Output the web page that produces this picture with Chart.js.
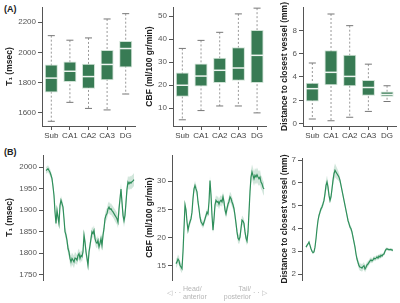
<!DOCTYPE html>
<html lang="en">
<head>
<meta charset="UTF-8">
<title>Hippocampal subfields: T1, CBF, vessel distance</title>
<script src="https://cdn.jsdelivr.net/npm/chart.js"></script>
<style>
  body { margin: 0; background: #fff; width: 400px; height: 303px; position: relative; overflow: hidden; font-family: "Liberation Sans", Arial, sans-serif; }
  canvas { position: absolute; }
  .tag { position: absolute; font-weight: bold; font-size: 9px; color: #222; line-height: 1.2; }
</style>
</head>
<body>
<div class="tag" style="left:4px;top:4px">(A)</div>
<div class="tag" style="left:4px;top:147px">(B)</div>
<canvas id="boxT1" width="140" height="145" style="left:0;top:0"></canvas>
<canvas id="boxCbf" width="132" height="145" style="left:138px;top:0"></canvas>
<canvas id="boxDist" width="132" height="145" style="left:268px;top:0"></canvas>
<canvas id="lineT1" width="140" height="158" style="left:0;top:145px"></canvas>
<canvas id="lineCbf" width="132" height="158" style="left:138px;top:145px"></canvas>
<canvas id="lineDist" width="132" height="158" style="left:268px;top:145px"></canvas>

<script>
    const FONT = '"Liberation Sans", Arial, sans-serif';
    const subfields = ['Sub', 'CA1', 'CA2', 'CA3', 'DG'];

    // (A) box plots: lower whisker, Q1, median, Q3, upper whisker
    const t1Low  = [1545, 1670, 1630, 1620, 1725];
    const t1Q1   = [1735, 1805, 1760, 1815, 1900];
    const t1Med  = [1830, 1875, 1840, 1920, 2025];
    const t1Q3   = [1920, 1940, 1925, 2015, 2075];
    const t1High = [2110, 2080, 2095, 2220, 2255];

    const cbfLow  = [5, 9, 11, 11, 8];
    const cbfQ1   = [15, 19.5, 21, 22, 21];
    const cbfMed  = [20, 24, 26.5, 27.5, 33];
    const cbfQ3   = [25.5, 29.5, 32, 36.5, 44];
    const cbfHigh = [36, 39.5, 43, 51, 53.5];

    const distLow  = [0.4, 0.25, 0.55, 1.05, 1.9];
    const distQ1   = [1.9, 3.3, 3.2, 2.4, 2.3];
    const distMed  = [3.0, 4.4, 4.05, 3.1, 2.5];
    const distQ3   = [3.5, 6.3, 5.9, 3.75, 2.75];
    const distHigh = [5.2, 9.4, 8.4, 5.1, 3.25];

    const t1BoxTicks = [1600, 1800, 2000, 2200];
    const cbfBoxTicks = [10, 20, 30, 40, 50];
    const distBoxTicks = [0, 2, 4, 6, 8];

    // (B) profiles along the long axis (head -> tail): mean and band half-width
    const t1Profile = [1992,1994,1996,1992,1988,1981,1973,1955,1934,1896,
        1869,1900,1884,1869,1911,1923,1915,1907,1880,1850,
        1842,1830,1811,1803,1788,1780,1788,1784,1780,1789,
        1788,1784,1795,1799,1788,1795,1792,1803,1842,1826,
        1803,1788,1772,1803,1818,1834,1850,1846,1853,1834,
        1826,1823,1830,1815,1823,1834,1818,1842,1857,1880,
        1888,1892,1903,1907,1902,1903,1899,1896,1892,1888,
        1884,1880,1872,1903,1926,1949,1918,1888,1876,1888,
        1918,1949,1965,1961,1965,1963,1966,1968,1971];
    const t1Err = [8,8,8,8,8,8,9,10,10,10,
        10,10,10,10,10,10,10,10,10,10,
        12,12,12,12,14,14,14,14,14,14,
        12,12,12,12,12,12,12,12,12,12,
        12,12,12,12,12,12,12,12,12,12,
        12,12,12,12,12,12,12,12,12,12,
        13,13,13,13,13,13,13,13,13,14,
        14,14,14,14,14,14,14,14,15,15,
        15,15,15,15,15,15,15,15,15];

    const cbfProfile = [15.4,15.7,16.2,15.9,15.1,14.8,14.5,17.5,21.6,25.8,
        24.9,22.8,21.3,22.2,22.8,23.3,24.5,26.9,28.6,29.2,
        28.6,28.1,26.3,25.1,23.6,22.8,22.5,22.2,22.7,23.3,
        23.9,24.5,24.2,26.3,30.1,27.5,23.9,21.3,23.3,25.8,
        26.6,26.3,26.4,25.9,26.4,26.6,26.3,27.2,26.3,24.9,
        24.2,25.1,25.9,26.4,27.2,26.9,26.3,25.8,25.1,23.9,
        22.5,21.0,19.9,19.6,20.1,21.6,23.1,22.9,22.5,21.0,
        19.9,19.4,21.0,24.5,28.1,30.7,31.6,31.0,30.4,31.0,
        30.7,31.1,30.7,30.4,30.7,29.8,29.5,28.9,28.6];
    const cbfErr = [0.8,0.8,0.8,0.8,0.8,0.8,0.8,0.7,0.7,0.7,
        0.6,0.6,0.6,0.6,0.6,0.6,0.7,0.8,0.8,0.8,
        0.8,0.8,0.7,0.7,0.7,0.6,0.6,0.6,0.6,0.6,
        0.6,0.6,0.6,0.7,0.8,0.7,0.6,0.6,0.7,0.9,
        0.9,0.9,0.9,0.9,0.9,0.9,0.9,0.9,0.8,0.8,
        0.8,0.8,0.8,0.8,0.9,0.9,0.9,0.8,0.8,0.8,
        0.8,0.8,0.8,0.8,0.8,0.8,0.8,0.8,0.8,0.8,
        0.8,0.8,0.9,1.0,1.1,1.2,1.3,1.3,1.3,1.3,
        1.3,1.3,1.3,1.3,1.3,1.2,1.2,1.2,1.2];

    const distProfile = [3.18,3.26,3.32,3.40,3.26,3.11,3.00,2.94,2.97,3.18,
        3.55,3.99,4.35,4.57,4.72,4.86,4.94,5.08,5.23,5.53,
        5.89,6.04,5.82,5.45,5.23,5.38,5.74,6.11,6.40,6.55,
        6.47,6.40,6.33,6.25,6.11,5.89,5.67,5.45,5.23,5.01,
        4.79,4.57,4.35,4.21,4.06,3.99,3.84,3.62,3.40,3.18,
        2.88,2.66,2.51,2.37,2.30,2.30,2.26,2.33,2.37,2.22,
        2.30,2.40,2.44,2.51,2.58,2.62,2.58,2.62,2.70,2.66,
        2.70,2.75,2.70,2.79,2.75,2.83,2.79,2.86,2.88,3.00,
        3.08,3.11,3.08,3.07,3.07,3.08,3.05,3.05];
    const distErr = [0.06,0.06,0.06,0.06,0.06,0.06,0.06,0.06,0.06,0.08,
        0.10,0.10,0.12,0.12,0.12,0.12,0.12,0.14,0.16,0.20,
        0.25,0.28,0.22,0.16,0.14,0.16,0.20,0.25,0.30,0.30,
        0.28,0.25,0.22,0.18,0.15,0.12,0.10,0.10,0.10,0.10,
        0.10,0.10,0.12,0.12,0.12,0.12,0.12,0.12,0.12,0.12,
        0.12,0.14,0.15,0.16,0.16,0.16,0.16,0.16,0.15,0.15,
        0.14,0.14,0.12,0.12,0.12,0.12,0.10,0.10,0.10,0.10,
        0.10,0.10,0.10,0.10,0.10,0.10,0.08,0.08,0.08,0.08,
        0.08,0.06,0.06,0.06,0.06,0.06,0.06,0.06];

    const t1LineTicks = [1750, 1800, 1850, 1900, 1950, 2000];
    const cbfLineTicks = [15, 20, 25, 30];
    const distLineTicks = [2, 3, 4, 5, 6, 7];

    const BOX_GREEN = '#387b54';
    const LINE_GREEN = '#2f8f5b';
    const AXIS_GREY = '#555';

    // whiskers behind the boxes, medians on top
    const boxWhiskers = {
        id: 'boxWhiskers',
        beforeDatasetsDraw(chart, args, opts) {
            const ctx = chart.ctx;
            const y = chart.scales.y;
            chart.getDatasetMeta(0).data.forEach((bar, i) => {
                const top = y.getPixelForValue(opts.high[i]);
                const bot = y.getPixelForValue(opts.low[i]);
                const cap = bar.width * 0.27;
                ctx.save();
                ctx.lineWidth = 1;
                ctx.strokeStyle = '#999';
                ctx.setLineDash([2, 2]);
                ctx.beginPath();
                ctx.moveTo(bar.x, top);
                ctx.lineTo(bar.x, bot);
                ctx.stroke();
                ctx.setLineDash([]);
                ctx.strokeStyle = '#777';
                ctx.beginPath();
                ctx.moveTo(bar.x - cap, top);
                ctx.lineTo(bar.x + cap, top);
                ctx.moveTo(bar.x - cap, bot);
                ctx.lineTo(bar.x + cap, bot);
                ctx.stroke();
                ctx.restore();
            });
        },
        afterDatasetsDraw(chart, args, opts) {
            const ctx = chart.ctx;
            const y = chart.scales.y;
            chart.getDatasetMeta(0).data.forEach((bar, i) => {
                const m = y.getPixelForValue(opts.med[i]);
                ctx.save();
                ctx.strokeStyle = '#eef5f0';
                ctx.lineWidth = 1.5;
                ctx.beginPath();
                ctx.moveTo(bar.x - bar.width / 2, m);
                ctx.lineTo(bar.x + bar.width / 2, m);
                ctx.stroke();
                ctx.restore();
            });
        }
    };

    function yAxis(min, max, tickVals, title, width, titlePad) {
        return {
            min: min,
            max: max,
            afterBuildTicks: s => { s.ticks = tickVals.map(v => ({ value: v })); },
            afterFit: s => { s.width = width; },
            border: { display: true, color: AXIS_GREY, width: 1 },
            grid: { display: true, drawOnChartArea: false, drawTicks: true, tickLength: 4, color: AXIS_GREY },
            ticks: { color: '#555', font: { size: 8, family: FONT }, padding: 2, callback: v => String(v) },
            title: {
                display: true, text: title, color: '#222',
                font: { size: 8.5, weight: 'bold', family: FONT },
                padding: { top: titlePad, bottom: 0 }
            }
        };
    }

    function boxChart(id, low, q1, med, q3, high, ticks, min, max, title, yWidth, titlePad, padRight) {
        new Chart(document.getElementById(id), {
            type: 'bar',
            data: {
                labels: subfields,
                datasets: [{
                    data: q1.map((v, i) => [v, q3[i]]),
                    backgroundColor: BOX_GREEN,
                    borderColor: '#cfe2d5',
                    borderWidth: 1,
                    borderSkipped: false,
                    barPercentage: 0.7,
                    categoryPercentage: 1
                }]
            },
            options: {
                responsive: false,
                animation: false,
                layout: { padding: { left: 0, right: padRight, top: 7, bottom: 0 } },
                plugins: {
                    legend: { display: false },
                    tooltip: { enabled: false },
                    boxWhiskers: { low: low, med: med, high: high }
                },
                scales: {
                    x: {
                        afterFit: s => { s.height = 19; },
                        border: { display: true, color: AXIS_GREY, width: 1 },
                        grid: { display: true, offset: false, drawOnChartArea: false, tickLength: 4, color: AXIS_GREY },
                        ticks: { color: '#444', font: { size: 8, family: FONT }, padding: 1, maxRotation: 0 }
                    },
                    y: yAxis(min, max, ticks, title, yWidth, titlePad)
                }
            },
            plugins: [boxWhiskers]
        });
    }

    boxChart('boxT1', t1Low, t1Q1, t1Med, t1Q3, t1High, t1BoxTicks, 1514, 2299, 'T\u2081 (msec)', 42, 5, 5);
    boxChart('boxCbf', cbfLow, cbfQ1, cbfMed, cbfQ3, cbfHigh, cbfBoxTicks, 2.3, 54, 'CBF (ml/100 gr/min)', 35, 7, 3.6);
    boxChart('boxDist', distLow, distQ1, distMed, distQ3, distHigh, distBoxTicks, -0.2, 10, 'Distance to closest vessel (mm)', 35, 12, 3.6);

    // head / tail annotation under the CBF profile
    const headTail = {
        id: 'headTail',
        afterDraw(chart) {
            const ctx = chart.ctx;
            ctx.save();
            ctx.fillStyle = '#b5b5b5';
            ctx.font = '7px ' + FONT;
            ctx.textBaseline = 'middle';
            ctx.textAlign = 'left';
            ctx.fillText('Head/', 45, 144);
            ctx.fillText('anterior', 45, 152);
            ctx.fillText('\u00b7 \u00b7 \u25b7', 115, 148);
            ctx.textAlign = 'right';
            ctx.fillText('Tail/', 113, 144);
            ctx.fillText('posterior', 113, 152);
            ctx.fillText('\u25c1 \u00b7 \u00b7', 43, 148);
            ctx.restore();
        }
    };

    function profileChart(id, mean, err, ticks, min, max, title, yWidth, titlePad, padTop, xMin, extra) {
        const pts = mean.map((v, i) => ({ x: i, y: v }));
        const upper = mean.map((v, i) => ({ x: i, y: v + err[i] }));
        const lower = mean.map((v, i) => ({ x: i, y: v - err[i] }));
        new Chart(document.getElementById(id), {
            type: 'line',
            data: {
                datasets: [
                    { data: pts, borderColor: LINE_GREEN, borderWidth: 1.2, pointRadius: 0, tension: 0, fill: false },
                    { data: upper, borderWidth: 0, borderColor: 'rgba(0,0,0,0)', pointRadius: 0, tension: 0, fill: '+1', backgroundColor: 'rgba(47,143,91,0.22)' },
                    { data: lower, borderWidth: 0, borderColor: 'rgba(0,0,0,0)', pointRadius: 0, tension: 0, fill: false }
                ]
            },
            options: {
                responsive: false,
                animation: false,
                layout: { padding: { left: 0, right: 4, top: padTop, bottom: 23 } },
                plugins: { legend: { display: false }, tooltip: { enabled: false } },
                scales: {
                    x: { type: 'linear', min: xMin, max: 90, display: false },
                    y: yAxis(min, max, ticks, title, yWidth, titlePad)
                }
            },
            plugins: extra ? [extra] : []
        });
    }

    profileChart('lineT1', t1Profile, t1Err, t1LineTicks, 1738, 2028, 'T\u2081 (msec)', 43, 5, 10, -3, null);
    profileChart('lineCbf', cbfProfile, cbfErr, cbfLineTicks, 12.5, 34.6, 'CBF (ml/100 gr/min)', 34, 7, 10, -4, headTail);
    profileChart('lineDist', distProfile, distErr, distLineTicks, 1.74, 7.09, 'Distance to closest vessel (mm)', 34, 12, 13, -4, null);
</script>
</body>
</html>
